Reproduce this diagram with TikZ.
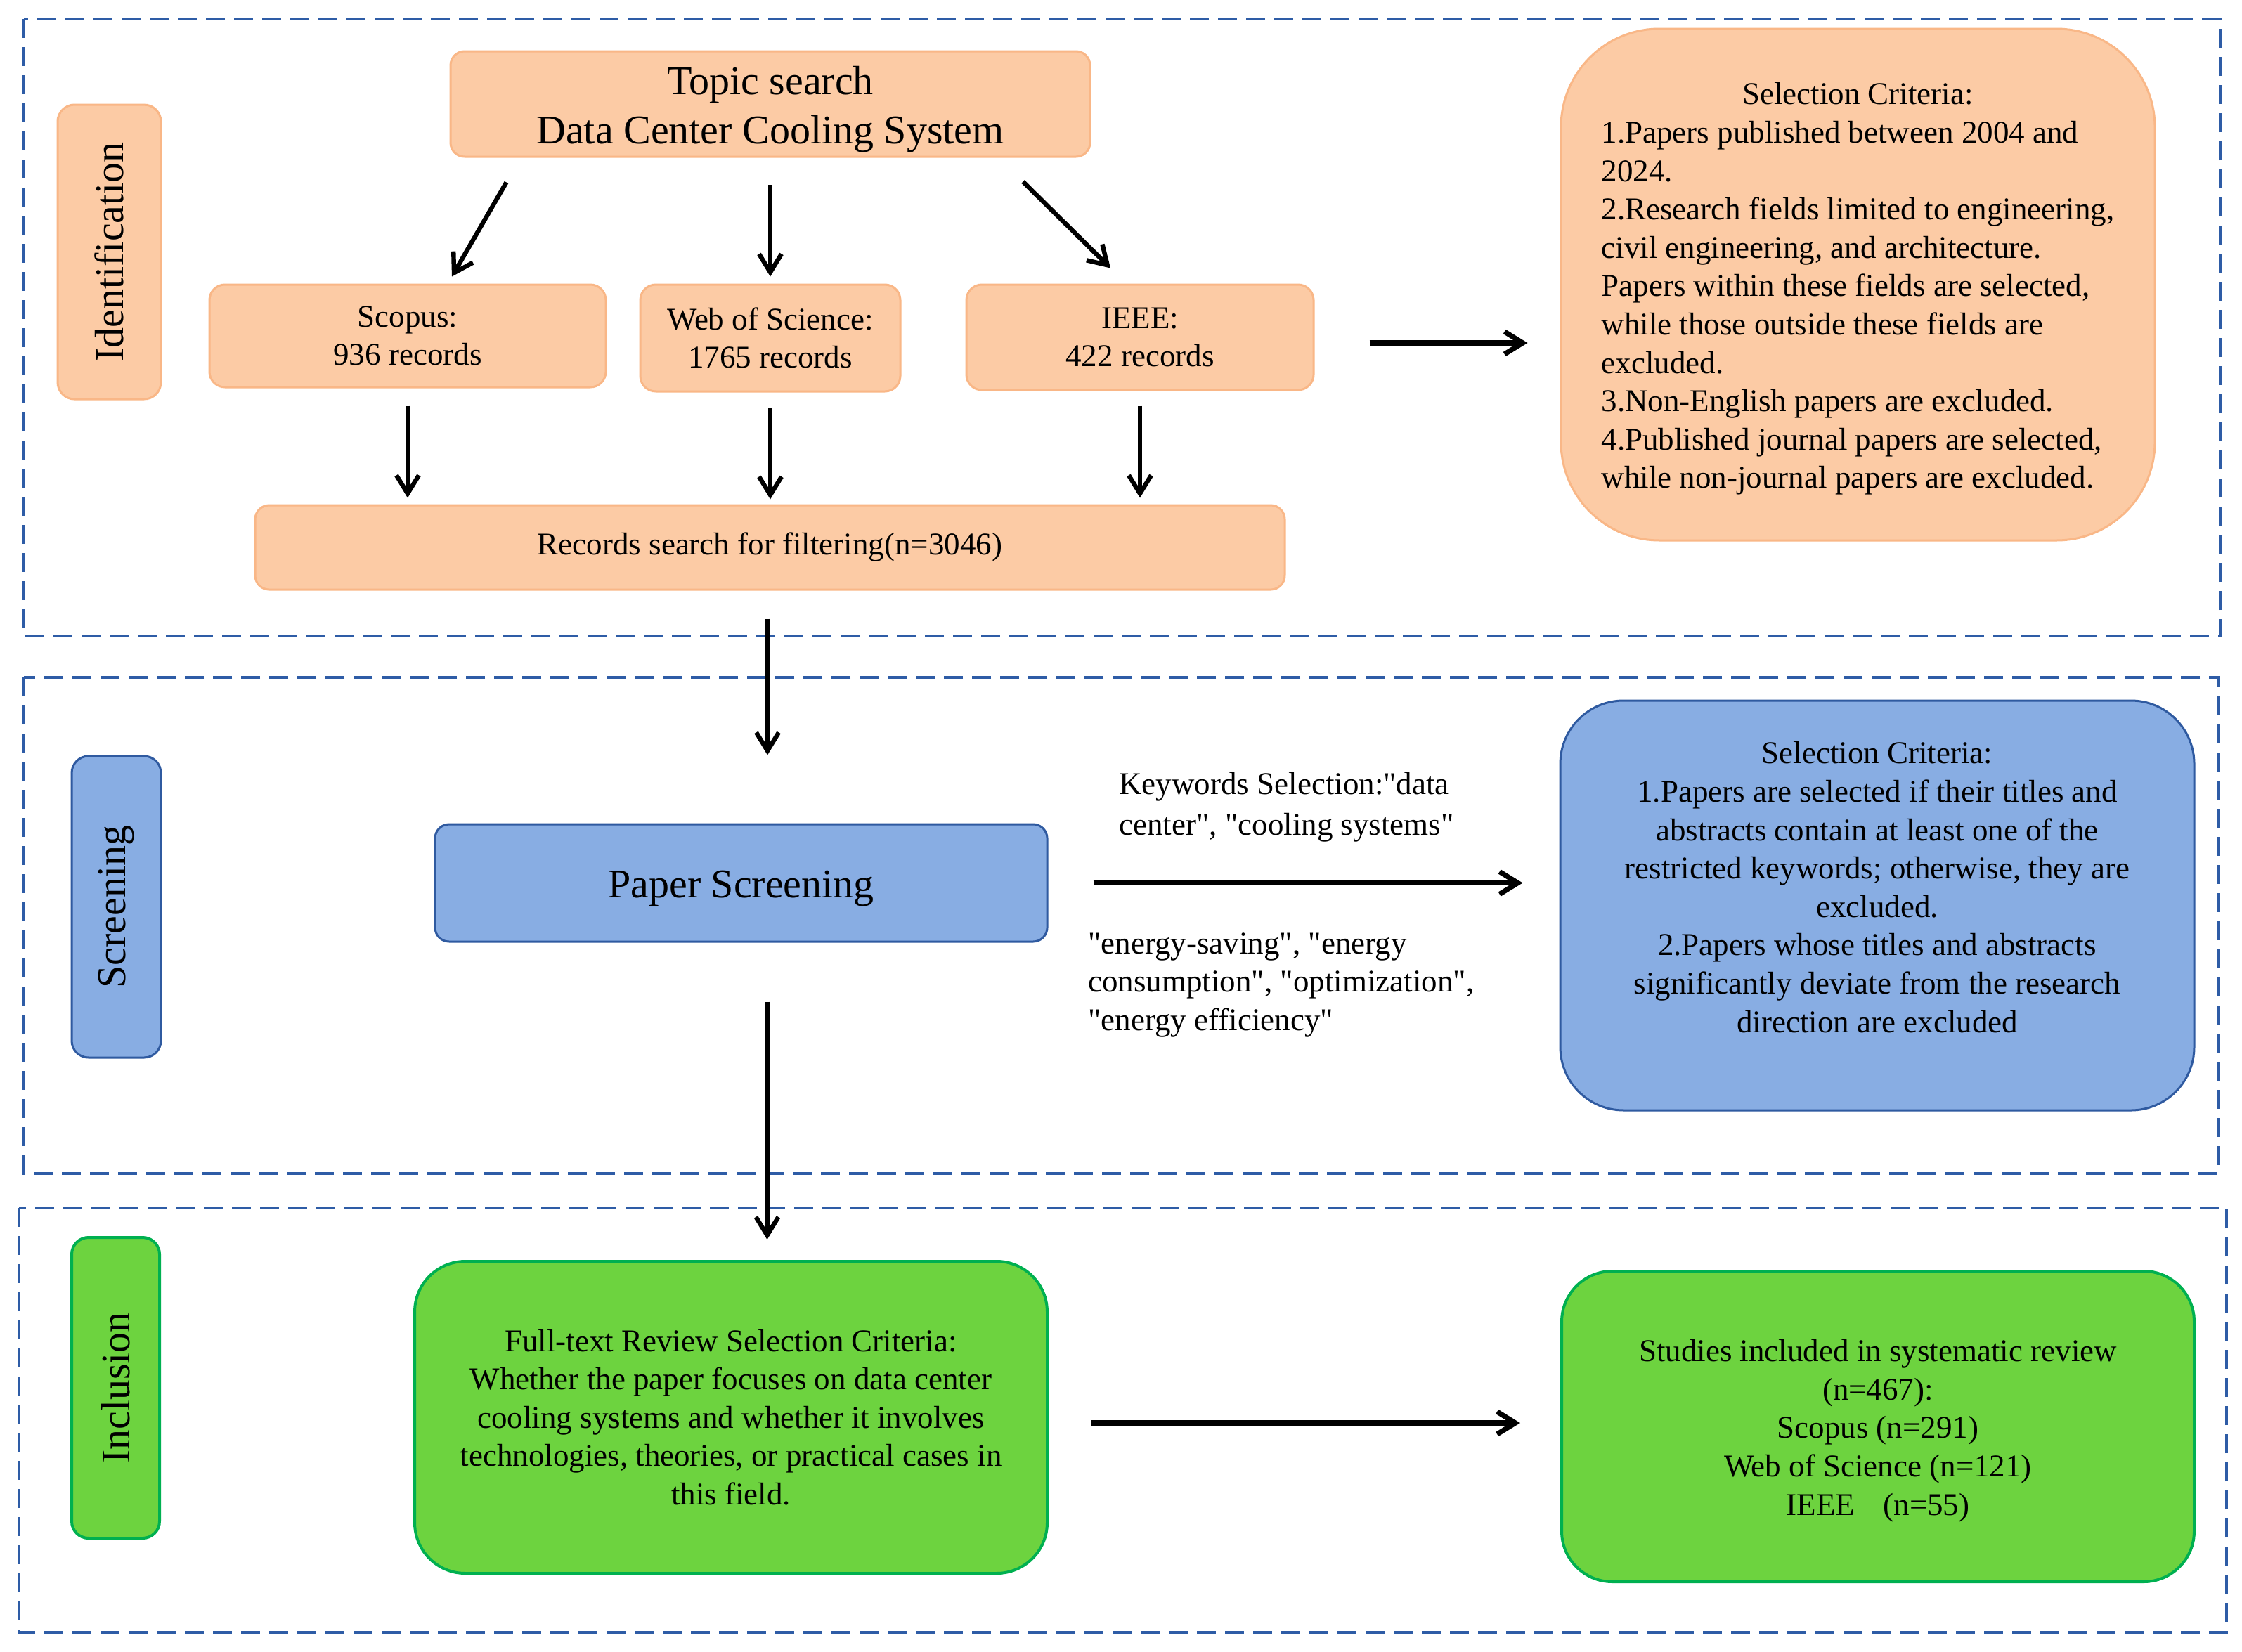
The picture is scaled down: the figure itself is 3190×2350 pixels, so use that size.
\documentclass[tikz,border=0pt]{standalone}
\usepackage{fontspec}
\setmainfont{Liberation Serif}
\newfontfamily\lib{Liberation Serif}
\usetikzlibrary{arrows.meta,calc}
\definecolor{orangefill}{HTML}{FCCBA5}
\definecolor{orangedraw}{HTML}{F9B787}
\definecolor{bluefill}{HTML}{88ADE3}
\definecolor{bluedraw}{HTML}{2F5AA0}
\definecolor{greenfill}{HTML}{6DD33F}
\definecolor{greendraw}{HTML}{00B050}
\definecolor{framecol}{HTML}{2E5CA6}
\newcommand\bodyf{\lib\fontsize{22.5}{27.3}\selectfont}
\newcommand\bigf{\lib\fontsize{29}{35}\selectfont}
\newcommand\kwf{\lib\fontsize{22.5}{29}\selectfont}
\tikzset{
  base/.style={rectangle, inner sep=0pt, font=\bodyf, align=center},
  obox/.style={base, draw=orangedraw, fill=orangefill, line width=1.5pt},
  bbox/.style={base, draw=bluedraw, fill=bluefill, line width=1.5pt},
  gbox/.style={base, draw=greendraw, fill=greenfill, line width=2pt},
  sidelab/.style={rotate=90, font=\bigf},
  dashframe/.style={draw=framecol, line width=2pt, dash pattern=on 13.5pt off 6.5pt},
  arr/.style={line width=3.2pt, -{Straight Barb[length=13pt,width=16pt]}},
}
\begin{document}
\begin{tikzpicture}[x=0.5pt,y=-0.5pt]
\fill[white] (0,0) rectangle (3190,2350);
\useasboundingbox (0,0) rectangle (3190,2350);

% frames
\draw[dashframe] (34,27) rectangle (3159,905);
\draw[dashframe] (34,964) rectangle (3156,1670);
\draw[dashframe] (27,1719) rectangle (3168,2323);

% Identification
\node[obox, sidelab, minimum width=209.5pt, minimum height=73.5pt, rounded corners=12pt] (idlab) at (155.5,358.5) {Identification};
\node[obox, minimum width=455pt, minimum height=75pt, rounded corners=10pt] (topic) at (1096,148) {};
\node[base, font=\bigf] (topict) at ([yshift=-4pt]topic.center) {Topic search\\Data Center Cooling System};
\node[obox, minimum width=282pt, minimum height=73pt, rounded corners=11pt] (scopus) at (580,478) {Scopus:\\936 records};
\node[obox, minimum width=185pt, minimum height=76pt, rounded corners=11pt] (wos) at (1096,481) {Web of Science:\\1765 records};
\node[obox, minimum width=247pt, minimum height=75pt, rounded corners=11pt] (ieee) at (1622,480) {IEEE:\\422 records};
\node[obox, minimum width=732.5pt, minimum height=60pt, rounded corners=10pt] (records) at (1095.5,779) {Records search for filtering(n=3046)};
\node[obox, minimum width=422.5pt, minimum height=364pt, rounded corners=70pt] (crit1) at (2643.5,405) {};
\node[base] (crit1t) at ([yshift=-3pt]crit1.center)
 {\begin{tabular}{@{}l@{}}
  \multicolumn{1}{@{}c@{}}{Selection Criteria:}\\
  1.Papers published between 2004 and\\
  2024.\\
  2.Research fields limited to engineering,\\
  civil engineering, and architecture.\\
  Papers within these fields are selected,\\
  while those outside these fields are\\
  excluded.\\
  3.Non-English papers are excluded.\\
  4.Published journal papers are selected,\\
  while non-journal papers are excluded.
  \end{tabular}};

% Screening
\node[bbox, sidelab, minimum width=214.5pt, minimum height=63.5pt, rounded corners=12pt] (scrlab) at (165.5,1290.5) {Screening};
\node[bbox, minimum width=435.5pt, minimum height=83.5pt, rounded corners=10pt] (paper) at (1054.5,1256.5) {};
\node[base, font=\bigf] (papert) at ([yshift=-4pt]paper.center) {Paper Screening};
\node[bbox, minimum width=451pt, minimum height=291.5pt, rounded corners=45pt] (crit2) at (2671,1288.5) {};
\node[base] (crit2t) at ([yshift=13pt]crit2.center)
 {Selection Criteria:\\
  1.Papers are selected if their titles and\\
  abstracts contain at least one of the\\
  restricted keywords; otherwise, they are\\
  excluded.\\
  2.Papers whose titles and abstracts\\
  significantly deviate from the research\\
  direction are excluded};
\node[base, align=left, anchor=north west, font=\kwf] (kw1) at (1592,1099) {Keywords Selection:"data\\center", "cooling systems"};
\node[base, align=left, anchor=north west] (kw2) at (1548,1327) {"energy-saving", "energy\\consumption", "optimization",\\"energy efficiency"};

% Inclusion
\node[gbox, sidelab, minimum width=214pt, minimum height=62.5pt, rounded corners=12pt] (inclab) at (164.5,1975) {Inclusion};
\node[gbox, minimum width=450pt, minimum height=222pt, rounded corners=36pt] (full) at (1040,2017)
 {Full-text Review Selection Criteria:\\
  Whether the paper focuses on data center\\
  cooling systems and whether it involves\\
  technologies, theories, or practical cases in\\
  this field.};
\node[gbox, minimum width=450pt, minimum height=221pt, rounded corners=36pt] (studies) at (2672,2030) {};
\node[base] (studiest) at ([yshift=-3pt]studies.center)
 {Studies included in systematic review\\
  (n=467):\\
  Scopus (n=291)\\
  Web of Science (n=121)\\
  IEEE\hspace{0.9em}(n=55)};

% arrows
\draw[arr] ([xshift=40.5pt,yshift=-17.5pt]topic.south west) -- ([xshift=31.5pt,yshift=5pt]scopus.north);
\draw[arr, shorten <=19pt, shorten >=5pt] (topic.south) -- (wos.north);
\draw[arr] ([xshift=-48.5pt,yshift=-17pt]topic.south east) -- ([xshift=-21pt,yshift=11pt]ieee.north);
\draw[arr, shorten <=12.5pt, shorten >=4.5pt] (scopus.south) -- (scopus.south |- records.north);
\draw[arr, shorten <=11pt, shorten >=3.5pt] (wos.south) -- (wos.south |- records.north);
\draw[arr, shorten <=10.5pt, shorten >=4.5pt] (ieee.south) -- (ieee.south |- records.north);
\draw[arr, line width=3.6pt, shorten <=39pt, shorten >=23pt] ([yshift=-4pt]ieee.east) -- ([yshift=-4pt]ieee.east -| crit1.west);
\draw[arr, shorten <=20pt, shorten >=48.5pt] ([xshift=-1.75pt]records.south) -- ([xshift=-1.75pt]records.south |- paper.north);
\draw[arr, shorten <=42pt, shorten >=14.5pt] ([xshift=18.5pt]paper.south) -- ([xshift=18.5pt]paper.south |- full.north);
\draw[arr, line width=3.6pt, shorten <=32pt, shorten >=26pt] (paper.east) -- (paper.east -| crit2.west);
\draw[arr, line width=3.6pt, shorten <=30.5pt, shorten >=28.5pt] ([yshift=-4pt]full.east) -- ([yshift=-4pt]full.east -| studies.west);
\end{tikzpicture}
\end{document}
